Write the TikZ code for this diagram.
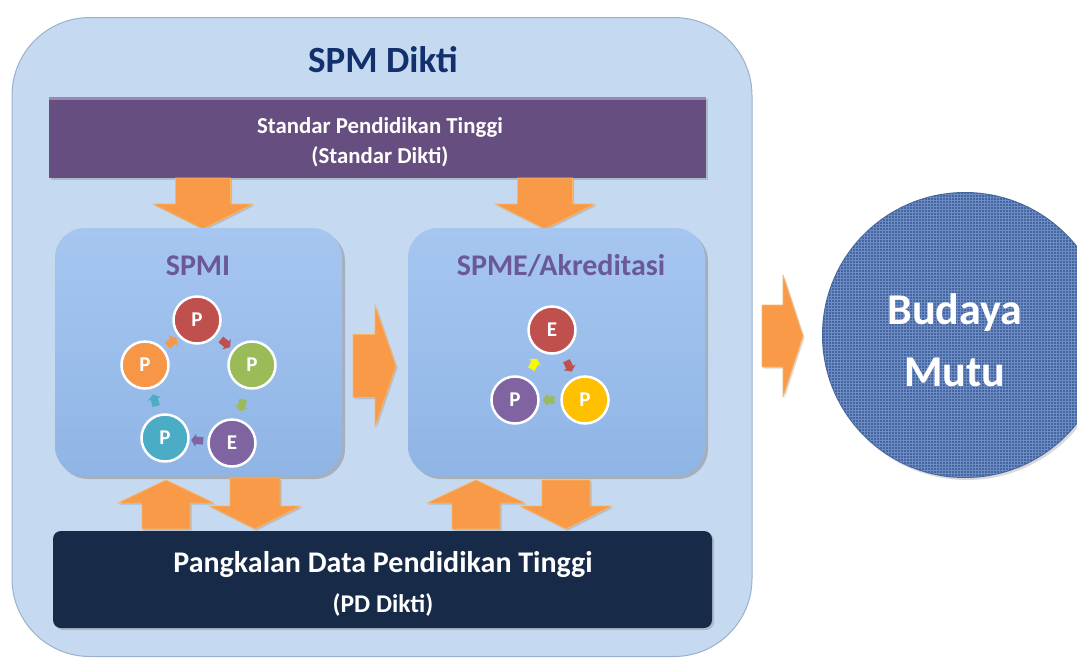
\documentclass[tikz,border=0pt]{standalone}
\usepackage{fontspec}
\setmainfont{Carlito}
\usetikzlibrary{shapes.arrows,shadows,patterns,calc}
\definecolor{outerfill}{HTML}{C5D9F1}
\definecolor{outerline}{HTML}{9AB0CC}
\definecolor{innertop}{HTML}{A6C6F0}
\definecolor{innerbot}{HTML}{8FB5E6}
\definecolor{stdpurple}{HTML}{664F80}
\definecolor{stdhigh}{HTML}{9A86B6}
\definecolor{navybar}{HTML}{172A48}
\definecolor{titlenavy}{HTML}{12306B}
\definecolor{subpurple}{HTML}{6A5897}
\definecolor{arrorange}{HTML}{F89A48}
\definecolor{arredge}{HTML}{F8B665}
\definecolor{cred}{HTML}{C0504D}
\definecolor{cgreen}{HTML}{9BBB59}
\definecolor{corange}{HTML}{F79646}
\definecolor{cteal}{HTML}{4BACC6}
\definecolor{cpurple}{HTML}{8064A2}
\definecolor{cyellow}{HTML}{FFC000}
\definecolor{cbright}{HTML}{F8F800}
\definecolor{budaya}{HTML}{44659F}
\definecolor{budtex}{HTML}{6E8CC4}
\tikzset{
  outerbox/.style={draw=outerline, line width=1pt, fill=outerfill, rounded corners=78pt,
    minimum width=740pt, minimum height=639pt, inner sep=0pt},
  innerbox/.style={rounded corners=30pt, top color=innertop, bottom color=innerbot, draw=none,
    drop shadow={opacity=0.45, shadow xshift=3pt, shadow yshift=-3pt},
    minimum height=248pt, inner sep=0pt},
  barbox/.style={draw=none, inner sep=0pt, align=center, text=white,
    drop shadow={opacity=0.35, shadow xshift=2pt, shadow yshift=-2pt}},
  stepcircle/.style={circle, draw=white, line width=2.5pt, fill=#1, minimum size=47pt,
    inner sep=0pt, text=white, font=\fontsize{21}{21}\selectfont\bfseries},
  flowtip/.style={single arrow, fill=#1, draw=none, minimum height=12pt,
    single arrow head extend=3pt, single arrow tip angle=110,
    inner xsep=2pt, inner ysep=3.5pt, sloped, allow upside down},
  bigarrow/.style={fill=arrorange, draw=arredge, line width=0.8pt, line join=round,
    drop shadow={opacity=0.3, shadow xshift=1.5pt, shadow yshift=-1.5pt}},
  boxtitle/.style={text=subpurple, font=\fontsize{30}{30}\selectfont\bfseries}
}
% cx, ytop, ybot, shaft half width, head half width, head length
\newcommand{\ArrDown}[6]{%
  \path[bigarrow] ({#1-#4},#2) -- ({#1+#4},#2) -- ({#1+#4},{#3-#6}) -- ({#1+#5},{#3-#6})
    -- (#1,#3) -- ({#1-#5},{#3-#6}) -- ({#1-#4},{#3-#6}) -- cycle;}
\newcommand{\ArrUp}[6]{%
  \path[bigarrow] ({#1-#4},#3) -- ({#1+#4},#3) -- ({#1+#4},{#2+#6}) -- ({#1+#5},{#2+#6})
    -- (#1,#2) -- ({#1-#5},{#2+#6}) -- ({#1-#4},{#2+#6}) -- cycle;}
% cy, xleft, xtip, shaft half, head half, head length
\newcommand{\ArrRight}[6]{%
  \path[bigarrow] (#2,{#1-#4}) -- ({#3-#6},{#1-#4}) -- ({#3-#6},{#1-#5}) -- (#3,#1)
    -- ({#3-#6},{#1+#5}) -- ({#3-#6},{#1+#4}) -- (#2,{#1+#4}) -- cycle;}
\begin{document}
\begin{tikzpicture}[x=1pt,y=-1pt]
\useasboundingbox (0,0) rectangle (1077,659);
\begin{scope}
\clip (0,0) rectangle (1077,659);
% outer container
\node[outerbox] (outer) at (382,337) {};
\node[text=titlenavy, font=\fontsize{37}{37}\selectfont\bfseries] (title) at (383,60) {SPM Dikti};
% Standar Dikti bar
\node[barbox, fill=stdpurple, minimum width=657pt, minimum height=81pt] (std) at (377.5,137.5) {};
\fill[stdhigh] (std.north west) rectangle ($(std.north east)+(0,3)$);
\node[text=white, align=center, font=\fontsize{22.8}{30}\selectfont\bfseries] (stdT) at (380,142)
  {Standar Pendidikan Tinggi\\(Standar Dikti)};
% PD Dikti bar
\node[barbox, fill=navybar, rounded corners=8pt, minimum width=659pt, minimum height=97pt] (pdd) at (382.5,579.5) {};
\node[text=white, font=\fontsize{30}{30}\selectfont\bfseries] (pddA) at (383,565) {Pangkalan Data Pendidikan Tinggi};
\node[text=white, font=\fontsize{25.5}{26}\selectfont\bfseries] (pddB) at (383,605) {(PD Dikti)};
% arrows from Standar Dikti
\ArrDown{203}{178}{229}{27.5}{50}{25}
\ArrDown{545}{178}{229}{27.5}{50}{25}
% inner boxes
\node[innerbox, minimum width=287pt] (spmi) at (198.5,352) {};
\node[innerbox, minimum width=297pt] (spme) at (556.5,352) {};
\node[boxtitle] (spmiT) at (198,266) {SPMI};
\node[boxtitle] (spmeT) at (561,266) {SPME/Akreditasi};
% SPMI cycle
\node[stepcircle=cred] (c1) at (197,320) {P};
\node[stepcircle=cgreen] (c2) at (252,365) {P};
\node[stepcircle=cpurple] (c3) at (232,443) {E};
\node[stepcircle=cteal] (c4) at (165,438) {P};
\node[stepcircle=corange] (c5) at (145,365) {P};
\path (c1) -- (c2) node[midway, flowtip=cred] {};
\path (c2) -- (c3) node[midway, flowtip=cgreen] {};
\path (c3) -- (c4) node[midway, flowtip=cpurple] {};
\path (c4) -- (c5) node[midway, flowtip=cteal] {};
\path (c5) -- (c1) node[midway, flowtip=corange] {};
% SPME cycle
\node[stepcircle=cred] (e1) at (552,330) {E};
\node[stepcircle=cyellow] (e2) at (585,400) {P};
\node[stepcircle=cpurple] (e3) at (515,400) {P};
\path (e1) -- (e2) node[midway, flowtip=cred] {};
\path (e2) -- (e3) node[midway, flowtip=cgreen] {};
\path (e3) -- (e1) node[midway, flowtip=cbright] {};
% arrow SPMI -> SPME
\ArrRight{366}{353}{396}{31.5}{61}{21}
% arrows between boxes and PD Dikti
\ArrUp{166}{480}{529}{24}{48}{23}
\ArrDown{255}{478}{529}{25}{46}{23}
\ArrUp{476}{480}{529}{24}{49}{23}
\ArrDown{566}{480}{529}{24}{46}{23}
% arrow to Budaya Mutu
\ArrRight{336}{762}{803}{31}{61}{20}
% Budaya Mutu
\node[circle, fill=budaya, minimum size=286pt, inner sep=0pt,
  drop shadow={opacity=0.3, shadow xshift=2pt, shadow yshift=-2pt}] (bm) at (965,335) {};
\fill[pattern=grid, pattern color=budtex] (bm.center) circle (142pt);
\node[text=white, align=center, font=\fontsize{44}{62}\selectfont\bfseries] (bmT) at (955,340) {Budaya\\Mutu};
\end{scope}
\end{tikzpicture}
\end{document}
